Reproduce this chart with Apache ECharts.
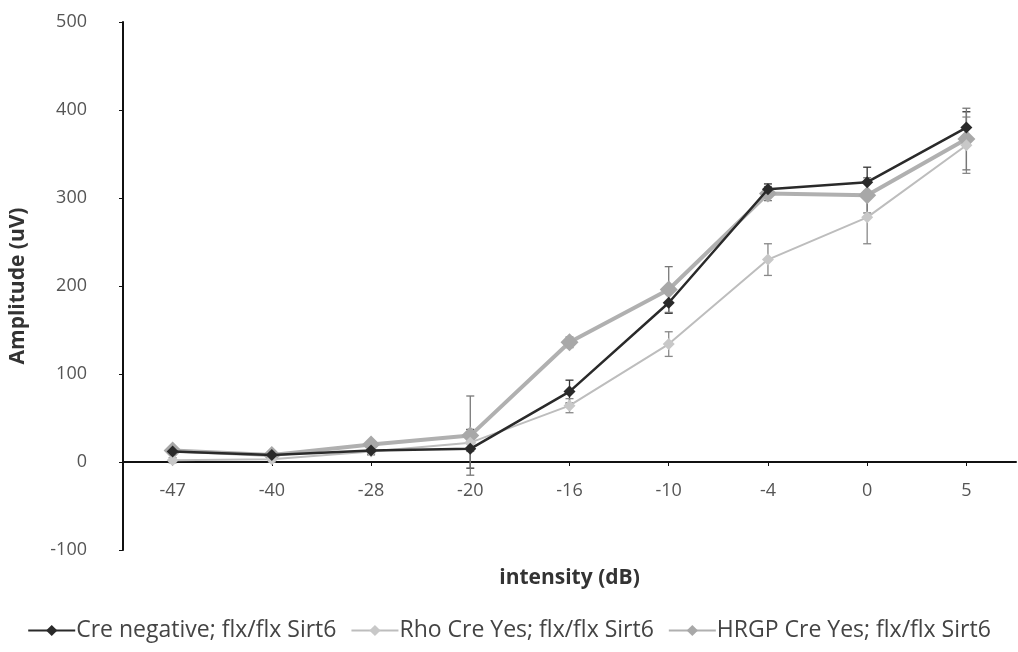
<!DOCTYPE html>
<html><head><meta charset="utf-8">
<script src="https://cdn.jsdelivr.net/npm/echarts@6/dist/echarts.min.js"></script>
<style>html,body{margin:0;padding:0;background:#fff}#c{width:1018px;height:652px}</style>
</head><body><div id="c"></div>
<script>
var categories = ['-47','-40','-28','-20','-16','-10','-4','0','5'];
var seriesNames = ['Cre negative; flx/flx Sirt6','Rho Cre Yes; flx/flx Sirt6','HRGP Cre Yes; flx/flx Sirt6'];
var creNegative = [12, 8, 13, 15, 80, 181, 310, 318, 380];
var rhoCre = [2, 3, 12, 22, 64, 134, 230, 278, 360];
var hrgpCre = [13, 8, 20, 30, 136, 196, 305, 303, 367];
var creNegativeErr = [3, 3, 4, 22, 13, 12, 6, 17, 18];
var rhoCreErr = [3, 3, 4, 10, 8, 14, 18, 30, 32];
var hrgpCreErr = [3, 3, 4, 45, 6, 26, 8, 20, 35];
var yTicks = {min: -100, max: 500, interval: 100};

function errSeries(vals, errs, color, idx) {
  var d = vals.map(function(v, i){ return [i, v - errs[i], v + errs[i]]; });
  return {
    type: 'custom', name: 'err' + idx, z: 1, silent: true,
    renderItem: function(params, api) {
      var x = api.value(0);
      var lo = api.coord([x, api.value(1)]);
      var hi = api.coord([x, api.value(2)]);
      var w = 4;
      var st = {stroke: color, lineWidth: 1.3};
      return {type: 'group', children: [
        {type: 'line', shape: {x1: hi[0], y1: hi[1], x2: lo[0], y2: lo[1]}, style: st},
        {type: 'line', shape: {x1: hi[0]-w, y1: hi[1], x2: hi[0]+w, y2: hi[1]}, style: st},
        {type: 'line', shape: {x1: lo[0]-w, y1: lo[1], x2: lo[0]+w, y2: lo[1]}, style: st}
      ]};
    },
    encode: {x: 0, y: [1, 2]},
    data: d
  };
}

var chart = echarts.init(document.getElementById('c'));
var fontFam = '"Open Sans", "Liberation Sans", sans-serif';
chart.setOption({
  animation: false,
  grid: {left: 118, right: 2, top: 22, bottom: 102, containLabel: false},
  legend: {
    bottom: 5, left: 'center', itemGap: 14, itemWidth: 47, itemHeight: 14,
    data: seriesNames,
    textStyle: {fontFamily: fontFam, fontSize: 23, color: '#444', padding: [0,0,0,-4]}
  },
  xAxis: {
    type: 'category', data: categories, boundaryGap: true,
    offset: -88,
    name: 'intensity (dB)', nameLocation: 'middle', nameGap: 106,
    nameTextStyle: {fontFamily: fontFam, fontSize: 21, fontWeight: 'bold', color: '#333'},
    axisLine: {onZero: false, lineStyle: {color: '#111', width: 2}},
    axisTick: {show: true, alignWithLabel: true, length: 4, lineStyle: {color: '#111'}},
    axisLabel: {fontFamily: fontFam, fontSize: 18, color: '#555', margin: 20},
    splitLine: {show: false}
  },
  yAxis: {
    type: 'value', min: yTicks.min, max: yTicks.max, interval: yTicks.interval,
    name: 'Amplitude (uV)', nameLocation: 'middle', nameGap: 94, nameRotate: 90,
    nameTextStyle: {fontFamily: fontFam, fontSize: 21, fontWeight: 'bold', color: '#333'},
    axisLine: {show: true, lineStyle: {color: '#111', width: 2}},
    axisTick: {show: true, length: 4, lineStyle: {color: '#111'}},
    axisLabel: {fontFamily: fontFam, fontSize: 18, color: '#555', margin: 36},
    splitLine: {show: false}
  },
  series: [
    errSeries(creNegative, creNegativeErr, '#333', 0),
    errSeries(rhoCre, rhoCreErr, '#888', 1),
    errSeries(hrgpCre, hrgpCreErr, '#777', 2),
    {name: seriesNames[2], type: 'line', data: hrgpCre, z: 2,
     symbol: 'diamond', symbolSize: 18, itemStyle: {color: '#a8a8a8'},
     lineStyle: {color: '#b0b0b0', width: 4}},
    {name: seriesNames[1], type: 'line', data: rhoCre, z: 3,
     symbol: 'diamond', symbolSize: 12, itemStyle: {color: '#c8c8c8'},
     lineStyle: {color: '#bdbdbd', width: 2}},
    {name: seriesNames[0], type: 'line', data: creNegative, z: 4,
     symbol: 'diamond', symbolSize: 12, itemStyle: {color: '#2a2a2a'},
     lineStyle: {color: '#2a2a2a', width: 2.5}}
  ]
});
</script></body></html>
